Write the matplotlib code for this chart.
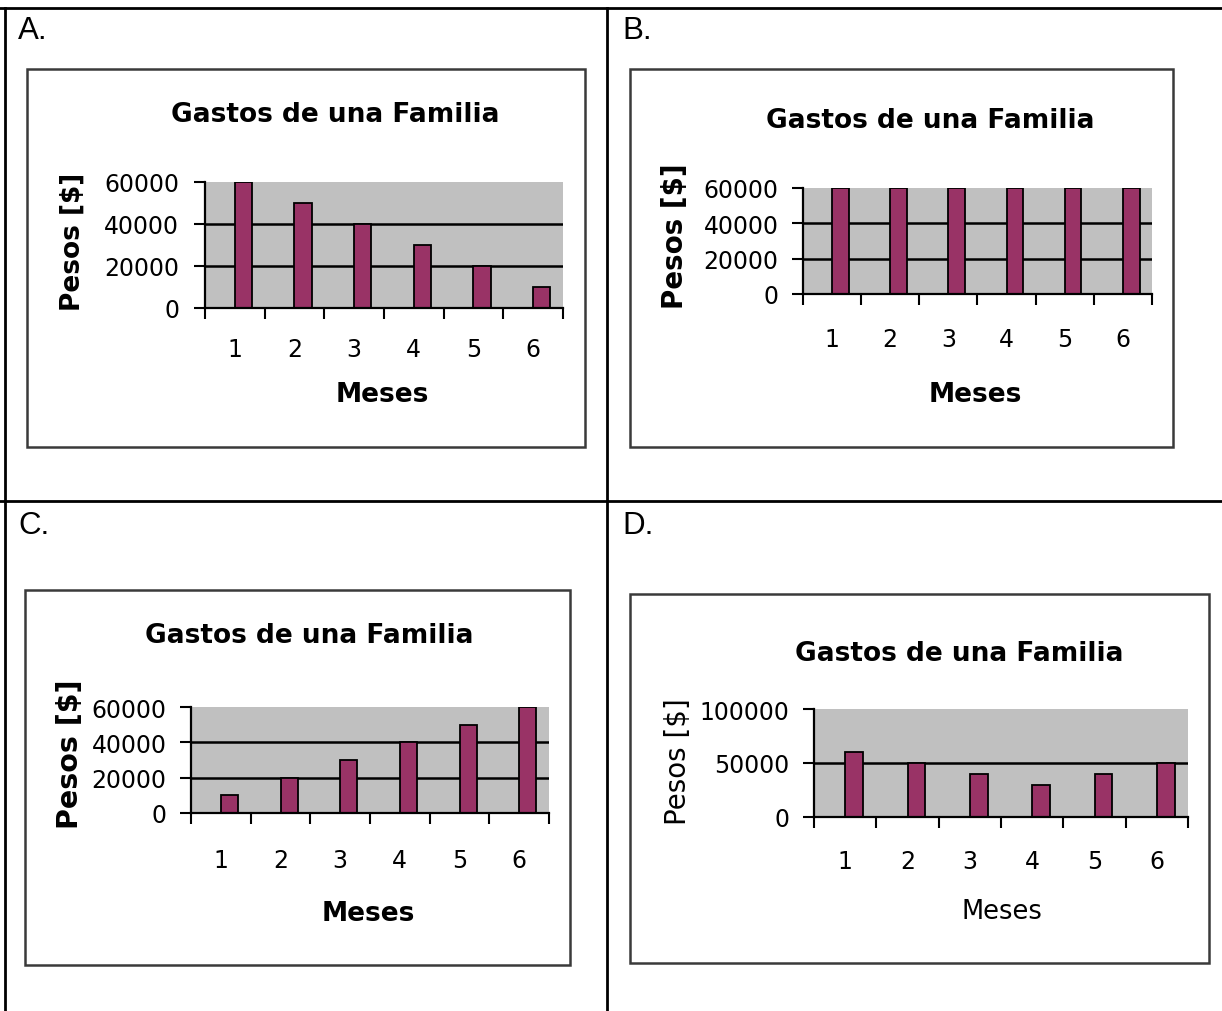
import matplotlib
matplotlib.use("Agg")
import matplotlib.pyplot as plt
from matplotlib.patches import Rectangle

# datos de los cuatro graficos
meses = [1, 2, 3, 4, 5, 6]
gastos_a = [60000, 50000, 40000, 30000, 20000, 10000]
gastos_b = [60000, 60000, 60000, 60000, 60000, 60000]
gastos_c = [10000, 20000, 30000, 40000, 50000, 60000]
gastos_d = [60000, 50000, 40000, 30000, 40000, 50000]
yticks_60 = [0, 20000, 40000, 60000]
yticks_100 = [0, 50000, 100000]
letras = ["A.", "B.", "C.", "D."]

W, H = 1222, 1012
BAR = "#993366"
GRIS = "#c0c0c0"


def frac(x0, y0, x1, y1):
    # pixeles (origen arriba a la izquierda) -> fraccion de figura
    return [x0 / W, 1 - y1 / H, (x1 - x0) / W, (y1 - y0) / H]


fig = plt.figure(figsize=(W / 100, H / 100), dpi=100)
fig.patch.set_facecolor("white")

# capa de fondo en pixeles: tabla, marcos y textos
bg = fig.add_axes([0, 0, 1, 1])
bg.set_xlim(0, W)
bg.set_ylim(H, 0)
bg.axis("off")

# lineas de la tabla
bg.plot([0, W], [9, 9], color="black", lw=2)
bg.plot([0, W], [502, 502], color="black", lw=2)
bg.plot([5, 5], [9, H], color="black", lw=2)
bg.plot([607, 607], [9, H], color="black", lw=2)

paneles = [
    dict(datos=gastos_a, yt=yticks_60, letra=(18, 39), caja=(27, 70, 585, 448),
         plot=(205, 183, 563, 309), titulo=(335, 122), meses=(382, 402),
         pesos=(73, 242), tam_pesos=19, xpad=21, ypad=10.5, negrita=True),
    dict(datos=gastos_b, yt=yticks_60, letra=(622, 39), caja=(630, 70, 1173, 448),
         plot=(803, 189, 1152, 295), titulo=(930, 128), meses=(975, 402),
         pesos=(675, 236), tam_pesos=20, xpad=24, ypad=9.5, negrita=True),
    dict(datos=gastos_c, yt=yticks_60, letra=(18, 534), caja=(25, 591, 570, 966),
         plot=(191, 708, 549, 814), titulo=(309, 643), meses=(368, 921),
         pesos=(70, 754), tam_pesos=20.5, xpad=25.5, ypad=9.5, negrita=True),
    dict(datos=gastos_d, yt=yticks_100, letra=(622, 534), caja=(630, 595, 1209, 964),
         plot=(814, 710, 1188, 818), titulo=(959, 661), meses=(1002, 919),
         pesos=(678, 762), tam_pesos=20, xpad=23, ypad=10, negrita=False),
]

for p, letra in zip(paneles, letras):
    bg.text(p["letra"][0], p["letra"][1], letra, fontsize=22.5,
            family="Liberation Sans", ha="left", va="baseline")

    x0, y0, x1, y1 = p["caja"]
    bg.add_patch(Rectangle((x0, y0), x1 - x0, y1 - y0, facecolor="white",
                           edgecolor="#3a3a3a", lw=1.8, zorder=1))

    bg.text(p["titulo"][0], p["titulo"][1], "Gastos de una Familia",
            fontsize=19, fontweight="bold", ha="center", va="baseline", zorder=3)
    peso = "bold" if p["negrita"] else "normal"
    bg.text(p["meses"][0], p["meses"][1], "Meses",
            fontsize=19 if p["negrita"] else 18.5,
            fontweight=peso, ha="center", va="baseline", zorder=3)
    bg.text(p["pesos"][0], p["pesos"][1], "Pesos [$]", fontsize=p["tam_pesos"],
            fontweight=peso, rotation=90, ha="center", va="center", zorder=3)

    ax = fig.add_axes(frac(*p["plot"]))
    ax.set_facecolor(GRIS)
    ymax = p["yt"][-1]
    for v in p["yt"][1:-1]:
        ax.axhline(v, color="black", lw=1.8, zorder=1)
    ax.bar(meses, p["datos"], width=0.286, align="edge", color=BAR,
           edgecolor="black", lw=1.3, zorder=2)
    ax.set_xlim(0.5, 6.5)
    ax.set_ylim(0, ymax)

    # marcas del eje x entre categorias, etiquetas centradas
    ax.set_xticks([m - 0.5 for m in meses] + [6.5])
    ax.set_xticklabels([])
    ax.set_xticks(meses, minor=True)
    ax.set_xticklabels([str(m) for m in meses], minor=True, fontsize=17)
    ax.tick_params(axis="x", which="minor", length=0, pad=p["xpad"])
    ax.tick_params(axis="x", which="major", length=8, width=1.5, direction="out")

    ax.set_yticks(p["yt"])
    ax.set_yticklabels([str(v) for v in p["yt"]], fontsize=17)
    ax.tick_params(axis="y", length=8, width=1.5, direction="out", pad=p["ypad"])

    for s in ["top", "right"]:
        ax.spines[s].set_visible(False)
    for s in ["left", "bottom"]:
        ax.spines[s].set_linewidth(1.6)
        ax.spines[s].set_zorder(3)

fig.savefig("out.png", dpi=100, facecolor="white")
